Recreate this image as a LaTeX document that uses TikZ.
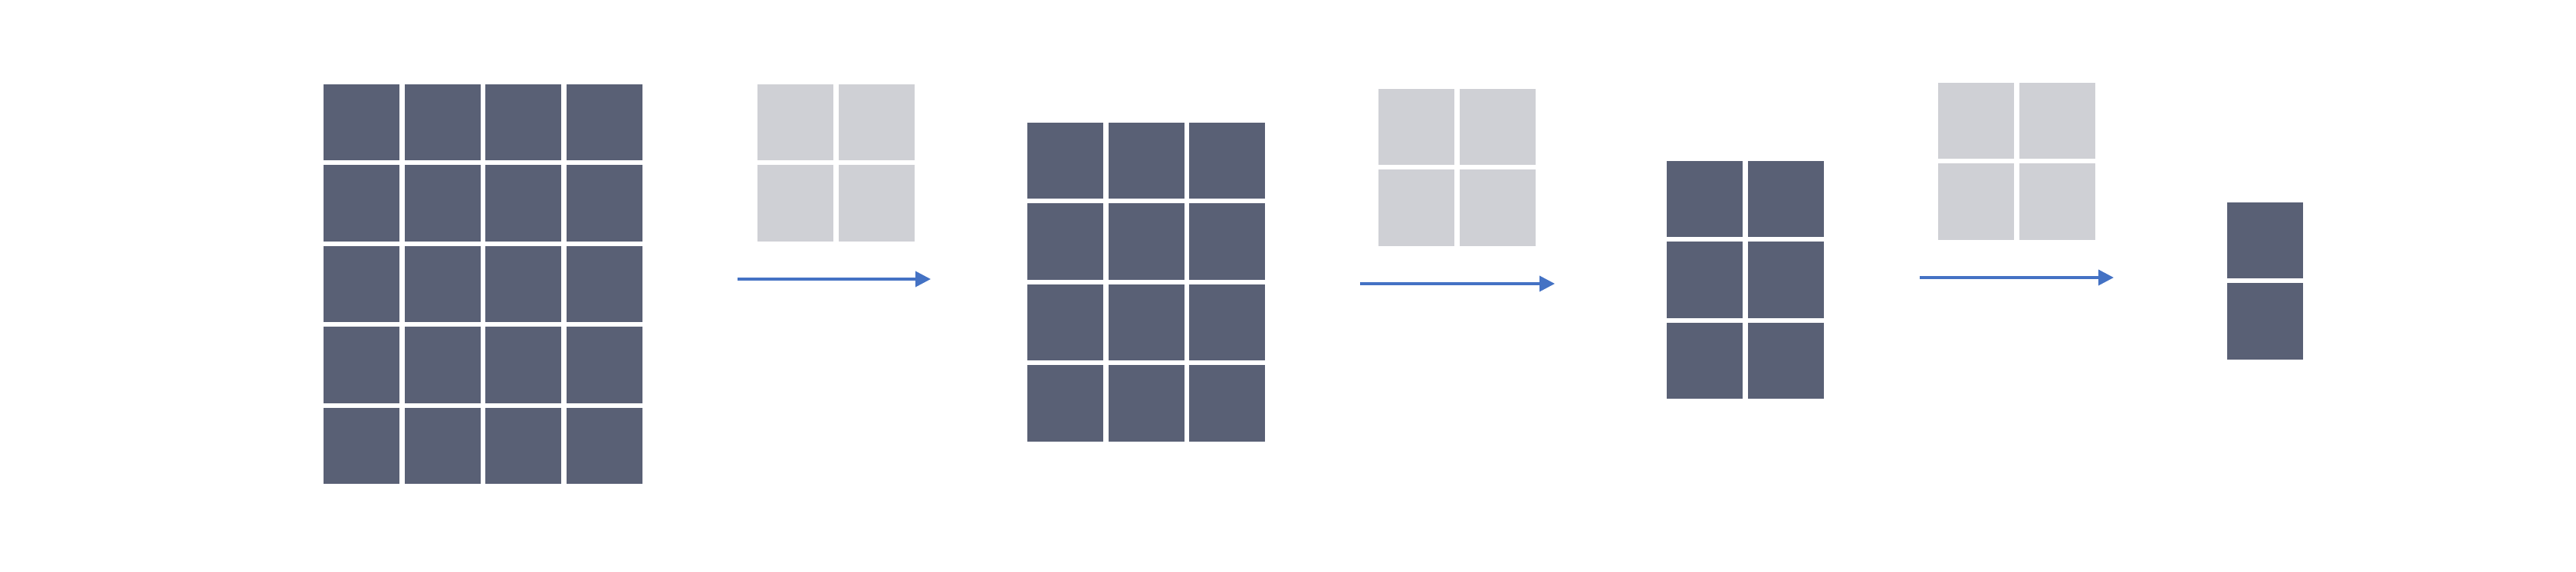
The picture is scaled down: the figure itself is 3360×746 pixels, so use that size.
\documentclass[tikz,border=0pt]{standalone}
\usepackage{xcolor}
\usepackage{tikz}
\usetikzlibrary{arrows.meta,positioning}
\definecolor{mapfill}{RGB}{89,96,117}
\definecolor{kernfill}{RGB}{207,208,213}
\definecolor{flowblue}{RGB}{68,114,196}

\begin{document}
\begin{tikzpicture}[x=0.01cm, y=-0.01cm, >={Triangle[length=0.2cm, width=0.2cm]},
  mapcell/.style={fill=mapfill, minimum width=0.99cm, minimum height=0.99cm, inner sep=0pt, outer sep=0pt, anchor=north west},
  kerncell/.style={mapcell, fill=kernfill},
  flow/.style={->, draw=flowblue, fill=flowblue, line width=1.05pt}]
  \useasboundingbox (0,0) rectangle (3360,746);
  % feature maps: name/left/top/cols/rows
  \foreach \g/\gx/\gy/\nc/\nr in {m1/422/110/4/5, m2/1340/160/3/4, m3/2174/210/2/3, m4/2905/264/1/2}
    \foreach \c in {1,...,\nc} \foreach \r in {1,...,\nr}
      \node[mapcell] (\g-\c-\r) at ({\gx+105.5*(\c-1)},{\gy+105.5*(\r-1)}) {};
  % 2x2 kernels
  \foreach \k/\kx/\ky in {k1/988/110, k2/1798/116, k3/2528/108}
    \foreach \c in {1,2} \foreach \r in {1,2}
      \node[kerncell] (\k-\c-\r) at ({\kx+105.5*(\c-1)},{\ky+105.5*(\r-1)}) {};
  \coordinate (a1s) at (962,364);  \coordinate (a1e) at (1214,364);
  \coordinate (a2s) at (1774,370); \coordinate (a2e) at (2028,370);
  \coordinate (a3s) at (2504,362); \coordinate (a3e) at (2757,362);
  \foreach \a in {a1,a2,a3} \draw[flow] (\a s) -- (\a e);
\end{tikzpicture}
\end{document}
